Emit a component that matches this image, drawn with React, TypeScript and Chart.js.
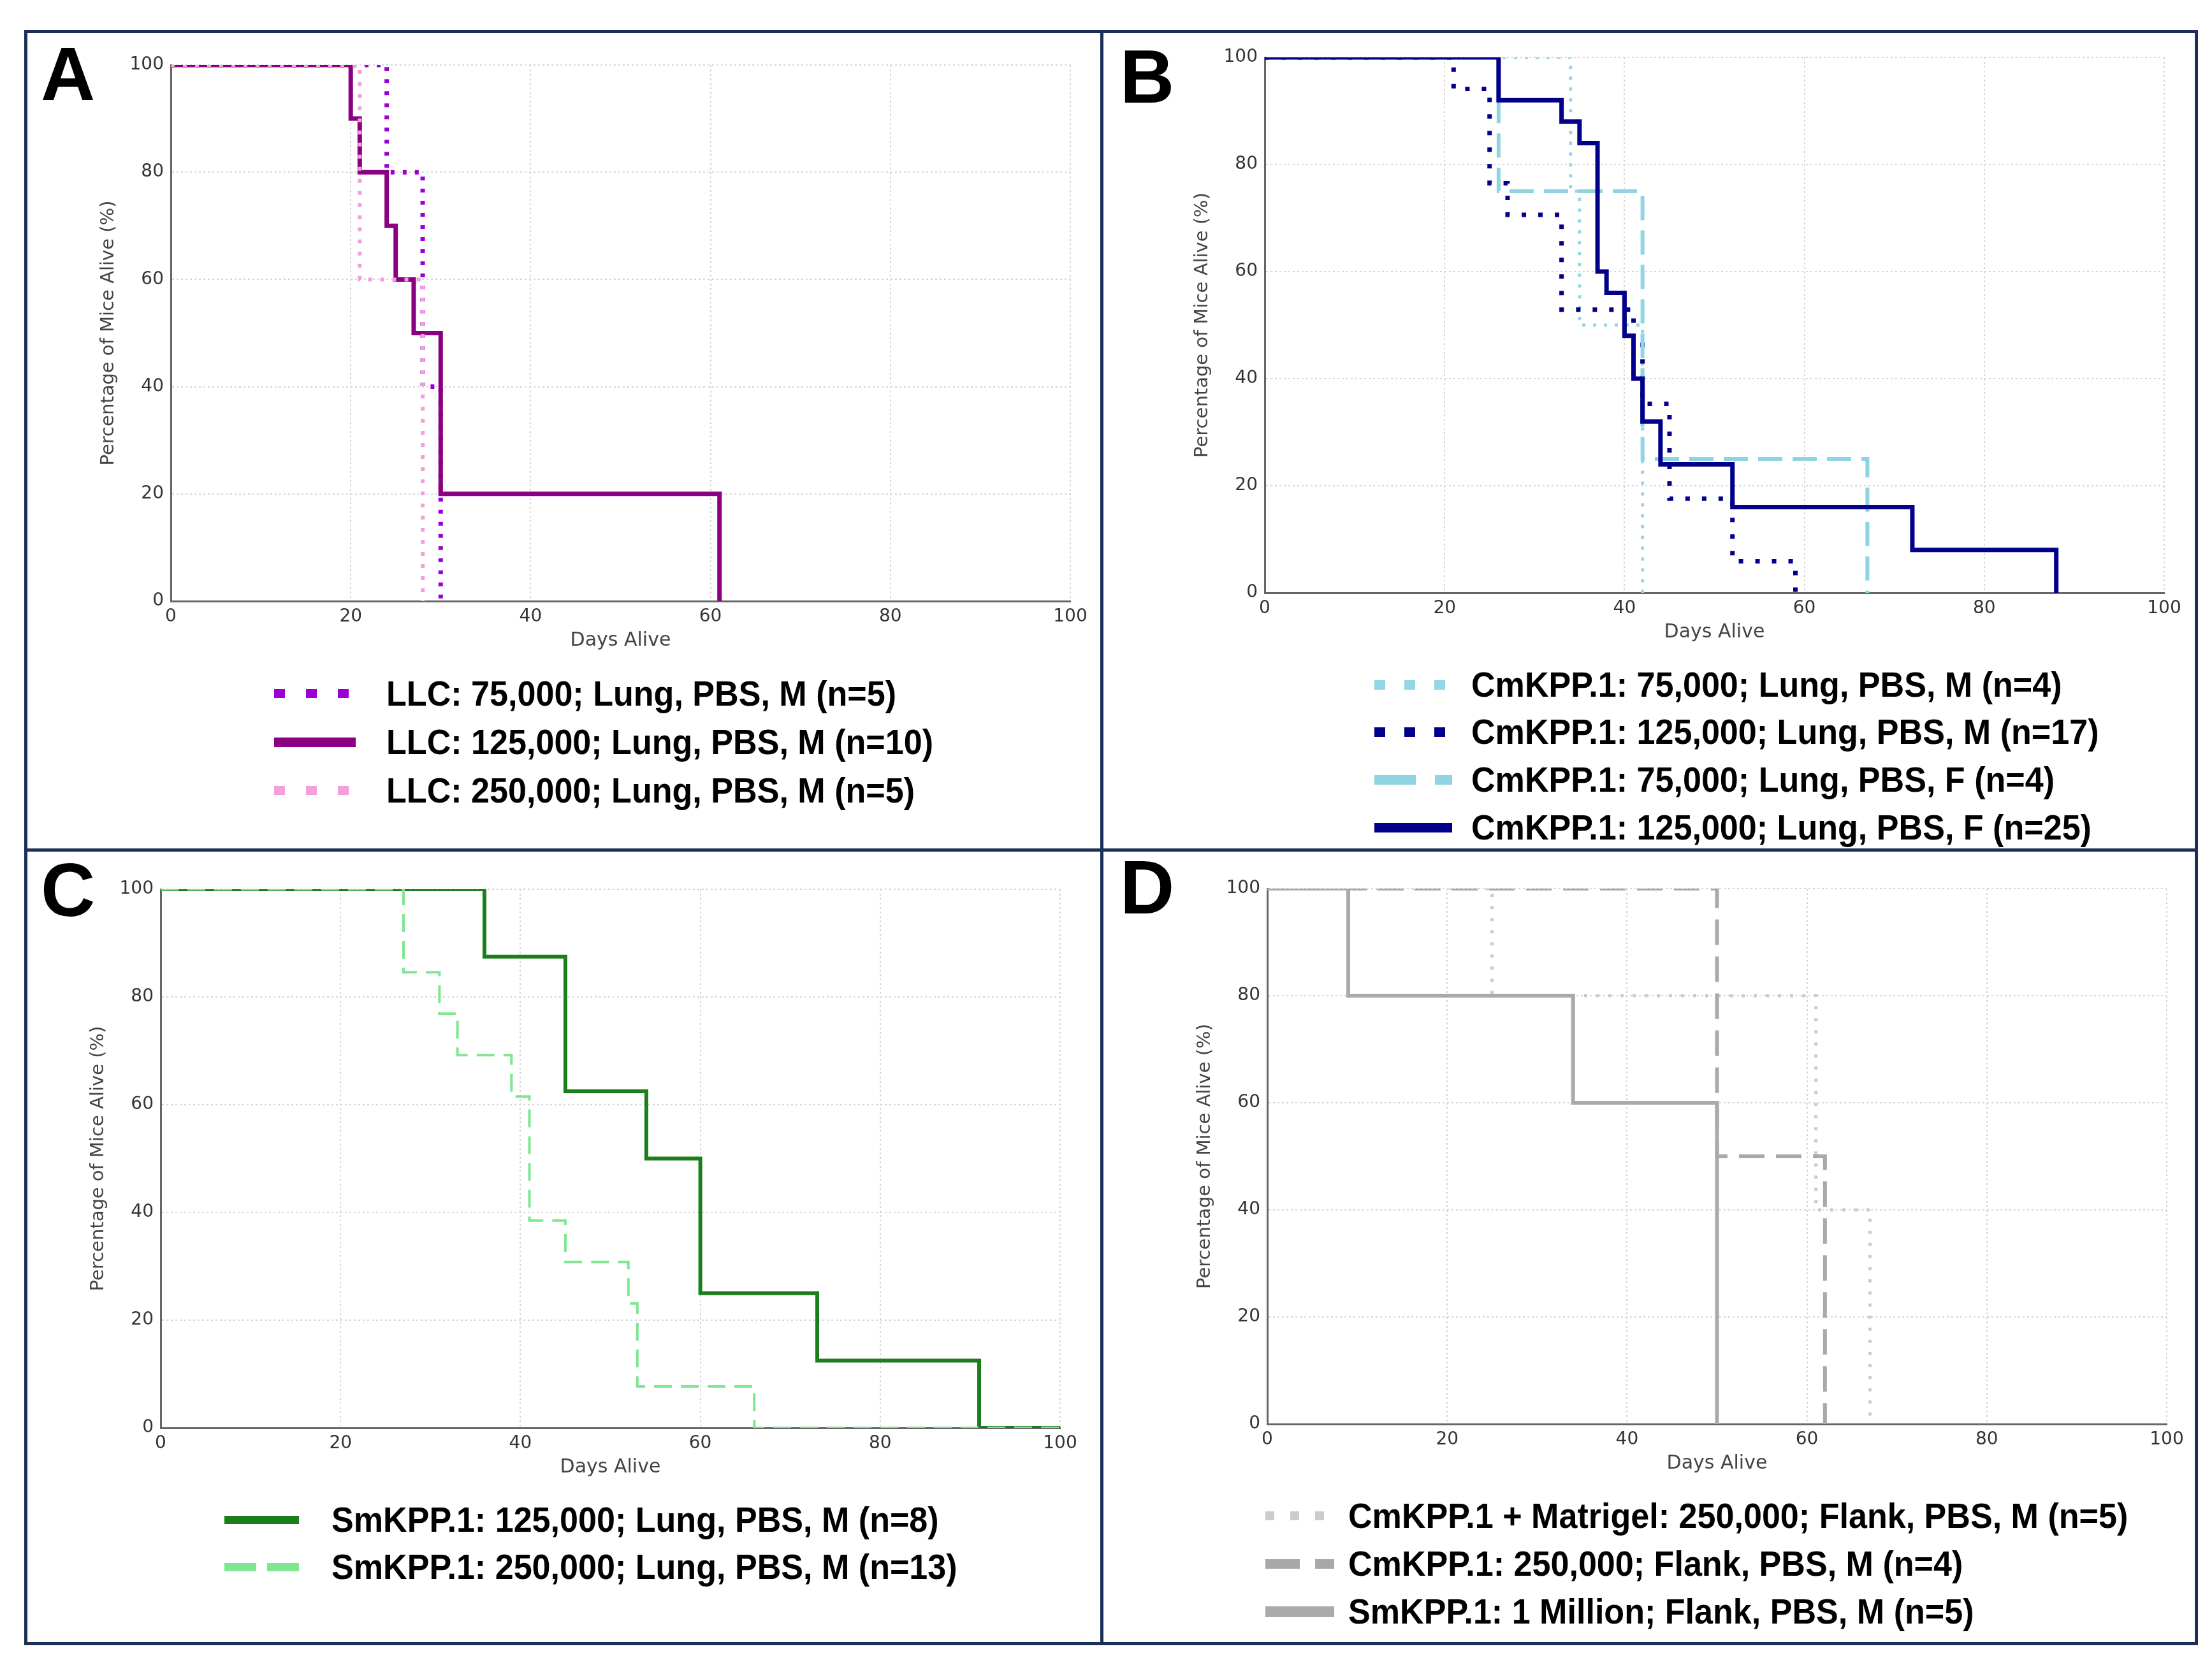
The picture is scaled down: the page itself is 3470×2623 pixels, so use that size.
import { useEffect, useRef } from 'react'
import { Chart, registerables } from 'chart.js'

Chart.register(...registerables)

// Panel A – LLC, lung
const llc75Days = [0, 24, 28, 30]
const llc75Alive = [100, 80, 40, 0]
const llc125Days = [0, 20, 21, 24, 25, 27, 30, 61]
const llc125Alive = [100, 90, 80, 70, 60, 50, 20, 0]
const llc250Days = [0, 21, 28]
const llc250Alive = [100, 60, 0]

// Panel B – CmKPP.1, lung
const cm75mDays = [0, 34, 35, 42]
const cm75mAlive = [100, 75, 50, 0]
const cm125mDays = [0, 21, 25, 27, 33, 41, 42, 45, 52, 59]
const cm125mAlive = [100, 94.1, 76.5, 70.6, 52.9, 47.1, 35.3, 17.6, 5.9, 0]
const cm75fDays = [0, 26, 42, 67]
const cm75fAlive = [100, 75, 25, 0]
const cm125fDays = [0, 26, 33, 35, 37, 38, 40, 41, 42, 44, 52, 72, 88]
const cm125fAlive = [100, 92, 88, 84, 60, 56, 48, 40, 32, 24, 16, 8, 0]

// Panel C – SmKPP.1, lung
const sm125Days = [0, 36, 45, 54, 60, 73, 91, 100]
const sm125Alive = [100, 87.5, 62.5, 50, 25, 12.5, 0, 0]
const sm250Days = [0, 27, 31, 33, 39, 41, 45, 52, 53, 66, 100]
const sm250Alive = [100, 84.6, 76.9, 69.2, 61.5, 38.5, 30.8, 23.1, 7.7, 0, 0]

// Panel D – flank
const matDays = [0, 25, 61, 67]
const matAlive = [100, 80, 40, 0]
const cmFlankDays = [0, 50, 62]
const cmFlankAlive = [100, 50, 0]
const smFlankDays = [0, 9, 34, 50]
const smFlankAlive = [100, 80, 60, 0]

const xTicks = [0, 20, 40, 60, 80, 100]

const axisFont = "'DejaVu Sans', sans-serif"
const legendFont = "'Liberation Sans', Arial, sans-serif"

type Series = {
  label: string
  days: number[]
  alive: number[]
  color: string
  width: number
  dash?: number[]
  // legend sample
  sw?: number
  sdash?: number[]
}

type PanelProps = {
  letter: string
  plot: { left: number; top: number; right: number; bottom: number }
  letterPos: { left: number; top: number }
  series: Series[]
  legend: { sampleLeft: number; sampleLen: number; textLeft: number; rows: number[] }
}

const Y_AXIS_W = 130
const X_AXIS_H = 100
const PAD = 40

function SurvivalPanel({ letter, plot, letterPos, series, legend }: PanelProps) {
  const canvasRef = useRef<HTMLCanvasElement>(null)
  const w = Y_AXIS_W + (plot.right - plot.left) + PAD
  const h = PAD + (plot.bottom - plot.top) + X_AXIS_H

  useEffect(() => {
    if (!canvasRef.current) return
    const chart = new Chart(canvasRef.current, {
      type: 'line',
      data: {
        datasets: series.map((s, i) => ({
          label: s.label,
          data: s.days.map((d, j) => ({ x: d, y: s.alive[j] })),
          borderColor: s.color,
          borderWidth: s.width,
          borderDash: s.dash || [],
          borderCapStyle: 'butt',
          borderJoinStyle: 'miter',
          stepped: 'before',
          pointRadius: 0,
          fill: false,
          order: series.length - i,
        })),
      },
      options: {
        animation: false,
        responsive: false,
        devicePixelRatio: 1,
        layout: { padding: { top: PAD, right: PAD, left: 0, bottom: 0 } },
        plugins: { legend: { display: false }, tooltip: { enabled: false } },
        scales: {
          x: {
            type: 'linear',
            min: 0,
            max: 100,
            afterBuildTicks: (scale: any) => {
              scale.ticks = xTicks.map((v) => ({ value: v }))
            },
            ticks: { color: '#333', padding: 8, font: { family: axisFont, size: 28 } },
            grid: { color: '#d6d6d6', lineWidth: 2, drawTicks: false },
            border: { color: '#666', width: 3, dash: [3, 4] },
            title: {
              display: true,
              text: 'Days Alive',
              color: '#444',
              font: { family: axisFont, size: 30 },
              padding: { top: 0, bottom: 20 },
            },
            afterFit: (scale: any) => {
              scale.height = X_AXIS_H
            },
          },
          y: {
            type: 'linear',
            min: 0,
            max: 100,
            ticks: { stepSize: 20, color: '#333', padding: 11, font: { family: axisFont, size: 28 } },
            grid: { color: '#d6d6d6', lineWidth: 2, drawTicks: false },
            border: { color: '#666', width: 3, dash: [3, 4] },
            title: {
              display: true,
              text: 'Percentage of Mice Alive (%)',
              color: '#444',
              font: { family: axisFont, size: 29 },
              padding: { top: 15, bottom: 0 },
            },
            afterFit: (scale: any) => {
              scale.width = Y_AXIS_W
            },
          },
        },
      },
    } as any)
    return () => chart.destroy()
  }, [])

  return (
    <>
      <div
        style={{
          position: 'absolute',
          left: plot.left - Y_AXIS_W,
          top: plot.top - PAD,
          width: w,
          height: h,
        }}
      >
        <canvas ref={canvasRef} width={w} height={h} style={{ width: w, height: h, display: 'block' }} />
      </div>
      <div
        style={{
          position: 'absolute',
          left: letterPos.left,
          top: letterPos.top - 15,
          fontFamily: "'Liberation Sans', Arial, sans-serif",
          fontWeight: 'bold',
          fontSize: 118,
          lineHeight: 1,
          color: '#000',
        }}
      >
        {letter}
      </div>
      {series.map((s, i) => {
        const cy = legend.rows[i]
        const th = s.sw || 14
        const bg = s.sdash
          ? `repeating-linear-gradient(to right, ${s.color} 0px, ${s.color} ${s.sdash[0]}px, transparent ${s.sdash[0]}px, transparent ${s.sdash[0] + s.sdash[1]}px)`
          : s.color
        return (
          <div key={s.label}>
            <div
              style={{
                position: 'absolute',
                left: legend.sampleLeft,
                top: cy - th / 2,
                width: legend.sampleLen,
                height: th,
                background: bg,
              }}
            />
            <div
              style={{
                position: 'absolute',
                left: legend.textLeft,
                top: cy - 40,
                height: 80,
                lineHeight: '80px',
                fontFamily: legendFont,
                fontWeight: 'bold',
                fontSize: 56,
                color: '#000',
                whiteSpace: 'nowrap',
                transform: 'scaleX(0.93)',
                transformOrigin: 'left center',
              }}
            >
              {s.label}
            </div>
          </div>
        )
      })}
    </>
  )
}

const navy = '#1b3058'

export default function App() {
  return (
    <div style={{ position: 'absolute', left: 0, top: 0, width: 3470, height: 2623, background: '#fff', overflow: 'hidden' }}>
      <SurvivalPanel
        letter="A"
        plot={{ left: 268, top: 102, right: 1679, bottom: 943 }}
        letterPos={{ left: 64, top: 72 }}
        legend={{ sampleLeft: 430, sampleLen: 128, textLeft: 606, rows: [1088, 1164, 1240] }}
        series={[
          { label: 'LLC: 75,000; Lung, PBS, M (n=5)', days: llc75Days, alive: llc75Alive, color: '#9a00d6', width: 7, dash: [6, 13], sw: 14, sdash: [17, 33] },
          { label: 'LLC: 125,000; Lung, PBS, M (n=10)', days: llc125Days, alive: llc125Alive, color: '#8b0080', width: 7, sw: 15 },
          { label: 'LLC: 250,000; Lung, PBS, M (n=5)', days: llc250Days, alive: llc250Alive, color: '#f2a0dc', width: 6, dash: [6, 13], sw: 14, sdash: [17, 33] },
        ]}
      />
      <SurvivalPanel
        letter="B"
        plot={{ left: 1984, top: 90, right: 3395, bottom: 930 }}
        letterPos={{ left: 1757, top: 76 }}
        legend={{ sampleLeft: 2156, sampleLen: 122, textLeft: 2308, rows: [1074, 1148, 1223, 1298] }}
        series={[
          { label: 'CmKPP.1: 75,000; Lung, PBS, M (n=4)', days: cm75mDays, alive: cm75mAlive, color: '#93d6e4', width: 5, dash: [5, 12], sw: 15, sdash: [17, 30] },
          { label: 'CmKPP.1: 125,000; Lung, PBS, M (n=17)', days: cm125mDays, alive: cm125mAlive, color: '#00008b', width: 7, dash: [7, 19], sw: 15, sdash: [17, 30] },
          { label: 'CmKPP.1: 75,000; Lung, PBS, F (n=4)', days: cm75fDays, alive: cm75fAlive, color: '#8fd4e3', width: 6, dash: [38, 16], sw: 15, sdash: [65, 30] },
          { label: 'CmKPP.1: 125,000; Lung, PBS, F (n=25)', days: cm125fDays, alive: cm125fAlive, color: '#00008b', width: 7, sw: 15 },
        ]}
      />
      <SurvivalPanel
        letter="C"
        plot={{ left: 252, top: 1395, right: 1663, bottom: 2240 }}
        letterPos={{ left: 64, top: 1352 }}
        legend={{ sampleLeft: 352, sampleLen: 117, textLeft: 520, rows: [2384, 2458] }}
        series={[
          { label: 'SmKPP.1: 125,000; Lung, PBS, M (n=8)', days: sm125Days, alive: sm125Alive, color: '#1a7f1a', width: 6, sw: 13 },
          { label: 'SmKPP.1: 250,000; Lung, PBS, M (n=13)', days: sm250Days, alive: sm250Alive, color: '#7fe692', width: 4, dash: [28, 14], sw: 13, sdash: [50, 17] },
        ]}
      />
      <SurvivalPanel
        letter="D"
        plot={{ left: 1988, top: 1394, right: 3399, bottom: 2234 }}
        letterPos={{ left: 1757, top: 1348 }}
        legend={{ sampleLeft: 1985, sampleLen: 108, textLeft: 2115, rows: [2378, 2453, 2528] }}
        series={[
          { label: 'CmKPP.1 + Matrigel: 250,000; Flank, PBS, M (n=5)', days: matDays, alive: matAlive, color: '#cbcbcb', width: 5, dash: [5, 14], sw: 14, sdash: [14, 25] },
          { label: 'CmKPP.1: 250,000; Flank, PBS, M (n=4)', days: cmFlankDays, alive: cmFlankAlive, color: '#a9a9a9', width: 6, dash: [40, 18], sw: 15, sdash: [54, 24] },
          { label: 'SmKPP.1: 1 Million; Flank, PBS, M (n=5)', days: smFlankDays, alive: smFlankAlive, color: '#aaaaaa', width: 6, sw: 17 },
        ]}
      />
      {/* panel frame */}
      <div style={{ position: 'absolute', left: 38, top: 47, width: 3410, height: 2534, border: `5px solid ${navy}`, boxSizing: 'border-box' }} />
      <div style={{ position: 'absolute', left: 1726, top: 47, width: 5, height: 2534, background: navy }} />
      <div style={{ position: 'absolute', left: 38, top: 1331, width: 3410, height: 5, background: navy }} />
    </div>
  )
}
